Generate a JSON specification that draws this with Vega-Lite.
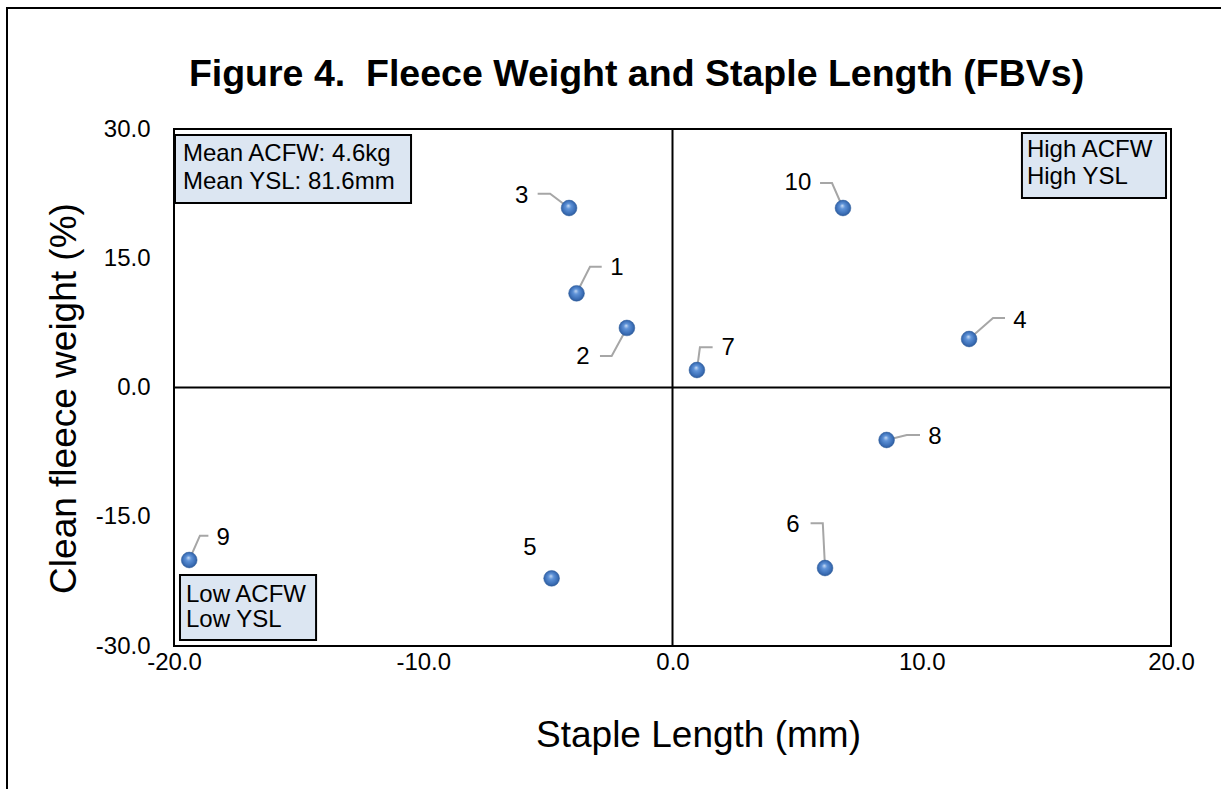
{
  "$schema": "https://vega.github.io/schema/vega-lite/v6.json",
  "autosize": {"type": "none"},
  "width": 997,
  "height": 517,
  "padding": {"left": 174, "top": 129, "right": 50, "bottom": 143},
  "background": "white",
  "title": {
    "text": "Figure 4.\u00a0 Fleece Weight and Staple Length (FBVs)",
    "font": "Liberation Sans",
    "fontSize": 37.5,
    "fontWeight": "bold",
    "color": "black",
    "anchor": "middle",
    "baseline": "alphabetic",
    "offset": 0,
    "dy": 116,
    "dx": -36
  },
  "datasets": {
    "points": [
      {"id": "1", "x": -3.85, "y": 10.93},
      {"id": "2", "x": -1.83, "y": 6.91},
      {"id": "3", "x": -4.15, "y": 20.83},
      {"id": "4", "x": 11.9, "y": 5.63},
      {"id": "5", "x": -4.85, "y": -22.15},
      {"id": "6", "x": 6.12, "y": -20.95},
      {"id": "7", "x": 0.98, "y": 2.03},
      {"id": "8", "x": 8.59, "y": -6.09},
      {"id": "9", "x": -19.39, "y": -20.02},
      {"id": "10", "x": 6.84, "y": 20.83}
    ],
    "labels": [
      {"id": "1", "x": -2.23, "y": 13.87},
      {"id": "2", "x": -3.59, "y": 3.54},
      {"id": "3", "x": -6.05, "y": 22.22},
      {"id": "4", "x": 13.94, "y": 7.72},
      {"id": "5", "x": -5.72, "y": -18.63},
      {"id": "6", "x": 4.83, "y": -15.96},
      {"id": "7", "x": 2.23, "y": 4.58},
      {"id": "8", "x": 10.53, "y": -5.74},
      {"id": "9", "x": -18.03, "y": -17.47},
      {"id": "10", "x": 5.03, "y": 23.73}
    ],
    "leaders": [
      {"id": "1", "o": 1, "x": -2.84, "y": 14.02},
      {"id": "1", "o": 2, "x": -3.31, "y": 14.02},
      {"id": "1", "o": 3, "x": -3.85, "y": 10.93},
      {"id": "2", "o": 1, "x": -2.91, "y": 3.66},
      {"id": "2", "o": 2, "x": -2.44, "y": 3.66},
      {"id": "2", "o": 3, "x": -1.83, "y": 6.91},
      {"id": "3", "o": 1, "x": -5.41, "y": 22.49},
      {"id": "3", "o": 2, "x": -4.91, "y": 22.49},
      {"id": "3", "o": 3, "x": -4.15, "y": 20.83},
      {"id": "4", "o": 1, "x": 13.34, "y": 8.07},
      {"id": "4", "o": 2, "x": 12.86, "y": 8.07},
      {"id": "4", "o": 3, "x": 11.9, "y": 5.63},
      {"id": "6", "o": 1, "x": 5.54, "y": -15.76},
      {"id": "6", "o": 2, "x": 6.03, "y": -15.76},
      {"id": "6", "o": 3, "x": 6.12, "y": -20.95},
      {"id": "7", "o": 1, "x": 1.61, "y": 4.67},
      {"id": "7", "o": 2, "x": 1.1, "y": 4.67},
      {"id": "7", "o": 3, "x": 0.98, "y": 2.03},
      {"id": "8", "o": 1, "x": 9.93, "y": -5.51},
      {"id": "8", "o": 2, "x": 9.4, "y": -5.51},
      {"id": "8", "o": 3, "x": 8.59, "y": -6.09},
      {"id": "9", "o": 1, "x": -18.62, "y": -17.2},
      {"id": "9", "o": 2, "x": -18.96, "y": -17.2},
      {"id": "9", "o": 3, "x": -19.39, "y": -20.02},
      {"id": "10", "o": 1, "x": 5.92, "y": 23.73},
      {"id": "10", "o": 2, "x": 6.4, "y": 23.73},
      {"id": "10", "o": 3, "x": 6.84, "y": 20.83}
    ],
    "boxes": [
      {"x": -19.96, "x2": -10.49, "y": 29.3, "y2": 21.41},
      {"x": 14.02, "x2": 19.8, "y": 29.54, "y2": 21.99},
      {"x": -19.76, "x2": -14.3, "y": -21.76, "y2": -29.3}
    ],
    "notes": [
      {"x": -19.64, "y": 27.1, "text": "Mean ACFW: 4.6kg"},
      {"x": -19.64, "y": 23.85, "text": "Mean YSL: 81.6mm"},
      {"x": 14.22, "y": 27.56, "text": "High ACFW"},
      {"x": 14.22, "y": 24.43, "text": "High YSL"},
      {"x": -19.52, "y": -24.08, "text": "Low ACFW"},
      {"x": -19.52, "y": -26.98, "text": "Low YSL"}
    ],
    "rules": [
      {"x": -20, "x2": 20, "y": 0, "y2": 0},
      {"x": 0, "x2": 0, "y": -30, "y2": 30}
    ],
    "frame": [
      {"x": -26.7, "x2": 25, "y": 44.04, "y2": -50}
    ]
  },
  "encoding": {
    "x": {
      "field": "x",
      "type": "quantitative",
      "title": "Staple Length (mm)",
      "scale": {"domain": [-20, 20], "nice": false, "zero": false},
      "axis": {"values": [-20, -10, 0, 10, 20], "labelExpr": "replace(format(datum.value, '.1f'), '\u2212', '-')", "titlePadding": 43, "labelPadding": 4, "titleX": 524}
    },
    "y": {
      "field": "y",
      "type": "quantitative",
      "title": "Clean fleece weight (%)",
      "scale": {"domain": [-30, 30], "nice": false, "zero": false},
      "axis": {"values": [-30, -15, 0, 15, 30], "labelExpr": "replace(format(datum.value, '.1f'), '\u2212', '-')", "titlePadding": 12, "labelPadding": 24, "titleY": 269}
    }
  },
  "layer": [
    {
      "data": {"name": "frame"},
      "mark": {"type": "rect", "fill": "white", "fillOpacity": 0, "stroke": "black", "strokeWidth": 2, "clip": false},
      "encoding": {"x2": {"field": "x2"}, "y2": {"field": "y2"}}
    },
    {
      "data": {"name": "rules"},
      "mark": {"type": "rule", "color": "black", "strokeWidth": 2},
      "encoding": {"x2": {"field": "x2"}, "y2": {"field": "y2"}}
    },
    {
      "data": {"name": "boxes"},
      "mark": {"type": "rect", "fill": "#dce6f2", "stroke": "black", "strokeWidth": 2},
      "encoding": {"x2": {"field": "x2"}, "y2": {"field": "y2"}}
    },
    {
      "data": {"name": "notes"},
      "mark": {"type": "text", "align": "left", "baseline": "middle", "font": "Liberation Sans", "fontSize": 24, "color": "black"},
      "encoding": {"text": {"field": "text"}}
    },
    {
      "data": {"name": "leaders"},
      "mark": {"type": "line", "color": "#a6a6a6", "strokeWidth": 2},
      "encoding": {"detail": {"field": "id"}, "order": {"field": "o"}}
    },
    {
      "data": {"name": "points"},
      "mark": {
        "type": "point",
        "shape": "circle",
        "filled": true,
        "size": 250,
        "opacity": 1,
        "fill": {
          "gradient": "radial",
          "x1": 0.45, "y1": 0.35, "r1": 0,
          "x2": 0.5, "y2": 0.5, "r2": 0.55,
          "stops": [
            {"offset": 0, "color": "#c9dcf5"},
            {"offset": 0.3, "color": "#5f93d8"},
            {"offset": 0.75, "color": "#3a6db5"},
            {"offset": 1, "color": "#27528f"}
          ]
        },
        "stroke": "#2f5f9f",
        "strokeWidth": 0.5
      },
      "encoding": {}
    },
    {
      "data": {"name": "labels"},
      "mark": {"type": "text", "align": "center", "baseline": "middle", "font": "Liberation Sans", "fontSize": 24, "color": "black"},
      "encoding": {"text": {"field": "id"}}
    }
  ],
  "config": {
    "view": {"stroke": "black", "strokeWidth": 2},
    "axis": {
      "grid": false,
      "ticks": false,
      "tickSize": 0,
      "domain": false,
      "labelFont": "Liberation Sans",
      "labelFontSize": 24,
      "labelColor": "black",
      "labelFlush": false,
      "labelOverlap": false,
      "titleFont": "Liberation Sans",
      "titleFontSize": 37,
      "titleFontWeight": "normal",
      "titleColor": "black"
    }
  }
}
